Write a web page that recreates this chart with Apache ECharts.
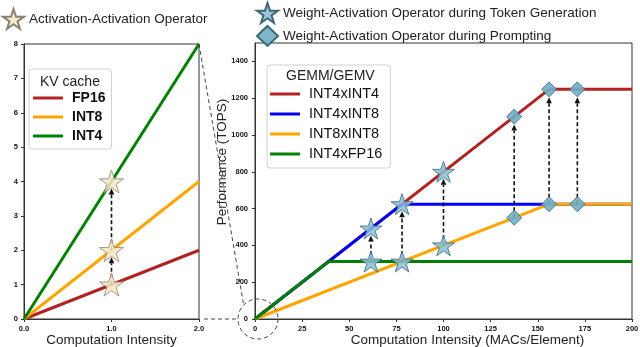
<!DOCTYPE html>
<html>
<head>
<meta charset="utf-8">
<script src="https://cdn.jsdelivr.net/npm/echarts@6.0.0/dist/echarts.min.js"></script>
<style>
  html, body { margin: 0; padding: 0; background: #fff; }
  #chart { width: 640px; height: 347px; }
</style>
</head>
<body>
<div id="chart"></div>
<script>
// KV cache roofline (left panel)
const fp16X = [0, 2], fp16Y = [0, 2];
const int8X = [0, 2], int8Y = [0, 4];
const int4X = [0, 2], int4Y = [0, 8];
const actX = [1, 1, 1];
const actY = [1, 2, 4];

// GEMM/GEMV roofline (right panel)
const int4int4X = [0, 156, 200], int4int4Y = [0, 1248, 1248];
const int4int8X = [0, 78, 200],  int4int8Y = [0, 624, 624];
const int8int8X = [0, 156, 200], int8int8Y = [0, 624, 624];
const int4fp16X = [0, 39, 200],  int4fp16Y = [0, 312, 312];

// token generation (stars) and prompting (diamonds): low -> high
const tokenX = [61.5, 78, 100];
const tokenLow = [312, 312, 400];
const tokenHigh = [492, 624, 800];
const promptX = [137.5, 156, 171];
const promptLow = [550, 624, 624];
const promptHigh = [1100, 1248, 1248];

const FONT = 'Liberation Sans';
const zip = (xs, ys) => xs.map((x, i) => [x, ys[i]]);

// five point star symbol
const starPath = (() => {
    const pts = [];
    for (let i = 0; i < 10; i++) {
        const a = (-90 + i * 36) * Math.PI / 180;
        const r = i % 2 ? 38.2 : 100;
        pts.push((r * Math.cos(a)).toFixed(2) + ',' + (r * Math.sin(a)).toFixed(2));
    }
    return 'path://M' + pts.join('L') + 'Z';
})();

// dashed arrow from low marker to just under the high marker
const arrowRenderer = (gap) => (params, api) => {
    const p0 = api.coord([api.value(0), api.value(1)]);
    const p1 = api.coord([api.value(0), api.value(2)]);
    const tipY = p1[1] + gap;
    const head = 6, half = 2.8;
    return {
        type: 'group',
        children: [
            {
                type: 'line',
                shape: { x1: p0[0], y1: p0[1], x2: p1[0], y2: tipY + head },
                style: { stroke: '#111', lineWidth: 1.6, lineDash: [4, 2.5] }
            },
            {
                type: 'polygon',
                shape: { points: [[p1[0], tipY], [p1[0] - half, tipY + head], [p1[0] + half, tipY + head]] },
                style: { fill: '#111' }
            }
        ]
    };
};

const axisCommon = {
    nameMoveOverlap: false,
    axisLine: { lineStyle: { color: '#333', width: 1 } },
    axisTick: { length: 3, lineStyle: { color: '#333' } },
    splitLine: { show: false },
    axisLabel: { fontFamily: FONT, fontSize: 7.5, fontWeight: 'bold', color: '#111', formatter: v => String(v) }
};

const nameStyle = { fontFamily: FONT, fontSize: 13.5, color: '#222' };

const lineSeries = (name, xs, ys, color, xi) => ({
    name: name,
    type: 'line',
    xAxisIndex: xi,
    yAxisIndex: xi,
    data: zip(xs, ys),
    symbol: 'none',
    showSymbol: false,
    lineStyle: { color: color, width: 3 },
    itemStyle: { color: color },
    z: 2,
    silent: true
});

const actPoints = zip(actX, actY);
const actArrows = actY.slice(0, -1).map((y, i) => [actX[i], y, actY[i + 1]]);

const boxLegend = {
    orient: 'vertical',
    icon: 'rect',
    itemWidth: 30, itemHeight: 3,
    selectedMode: false,
    backgroundColor: 'rgba(255,255,255,0.85)',
    borderColor: '#d0d0d0', borderWidth: 1, borderRadius: 3
};

const chart = echarts.init(document.getElementById('chart'));
chart.setOption({
    animation: false,
    backgroundColor: '#fff',
    title: [
        { text: 'KV cache', left: 40, top: 75, padding: 0,
          textStyle: { fontFamily: FONT, fontSize: 14, fontWeight: 'normal', color: '#222' } },
        { text: 'GEMM/GEMV', left: 286, top: 69, padding: 0,
          textStyle: { fontFamily: FONT, fontSize: 14, fontWeight: 'normal', color: '#222' } }
    ],
    legend: [
        {
            data: ['Activation-Activation Operator'],
            left: 2, top: 8, padding: 0,
            itemWidth: 21, itemHeight: 20,
            selectedMode: false,
            textStyle: { fontFamily: FONT, fontSize: 13.5, color: '#222' }
        },
        {
            data: ['Weight-Activation Operator during Token Generation', 'Weight-Activation Operator during Prompting'],
            orient: 'vertical',
            left: 256, top: 2, padding: 0,
            itemWidth: 21, itemHeight: 20, itemGap: 1,
            selectedMode: false,
            textStyle: { fontFamily: FONT, fontSize: 13.5, color: '#222' }
        },
        Object.assign({}, boxLegend, {
            data: ['FP16', 'INT8', 'INT4'],
            left: 29, top: 69,
            padding: [21, 6, 5, 4],
            itemGap: 3,
            textStyle: { fontFamily: FONT, fontSize: 14, fontWeight: 'bold', color: '#111',
                         lineHeight: 16, padding: [0, 0, 0, 4] }
        }),
        Object.assign({}, boxLegend, {
            data: ['INT4xINT4', 'INT4xINT8', 'INT8xINT8', 'INT4xFP16'],
            left: 267, top: 65,
            padding: [21, 8, 6, 3],
            itemGap: 4,
            textStyle: { fontFamily: FONT, fontSize: 14.5, color: '#111',
                         lineHeight: 16, padding: [0, 0, 0, 4] }
        })
    ],
    grid: [
        { left: 24, top: 44, width: 175, height: 275, outerBoundsMode: 'none',
          show: true, borderColor: '#333', borderWidth: 1 },
        { left: 255, top: 43, width: 377, height: 276, outerBoundsMode: 'none',
          show: true, borderColor: '#333', borderWidth: 1 }
    ],
    xAxis: [
        Object.assign({}, axisCommon, {
            type: 'value', gridIndex: 0, min: 0, max: 2, interval: 1,
            name: 'Computation Intensity', nameLocation: 'middle', nameGap: 14,
            nameTextStyle: nameStyle,
            axisLabel: Object.assign({}, axisCommon.axisLabel, { margin: 6, formatter: v => v.toFixed(1) })
        }),
        Object.assign({}, axisCommon, {
            type: 'value', gridIndex: 1, min: 0, max: 200, interval: 25,
            name: 'Computation Intensity (MACs/Element)', nameLocation: 'middle', nameGap: 14,
            nameTextStyle: Object.assign({}, nameStyle, { padding: [0, 0, 0, 48] }),
            axisLabel: Object.assign({}, axisCommon.axisLabel, { margin: 6 })
        })
    ],
    yAxis: [
        Object.assign({}, axisCommon, {
            type: 'value', gridIndex: 0, min: 0, max: 8, interval: 1,
            axisLabel: Object.assign({}, axisCommon.axisLabel, { margin: 6 })
        }),
        Object.assign({}, axisCommon, {
            type: 'value', gridIndex: 1, min: 0, max: 1500, interval: 200,
            name: 'Performance (TOPS)', nameLocation: 'middle', nameGap: 26,
            nameTextStyle: Object.assign({}, nameStyle, { padding: [0, 0, 0, 38] }),
            axisLabel: Object.assign({}, axisCommon.axisLabel, { margin: 7, showMaxLabel: false })
        })
    ],
    series: [
        lineSeries('FP16', fp16X, fp16Y, '#b22222', 0),
        lineSeries('INT8', int8X, int8Y, '#ffa500', 0),
        lineSeries('INT4', int4X, int4Y, '#008000', 0),
        lineSeries('INT4xINT4', int4int4X, int4int4Y, '#b22222', 1),
        lineSeries('INT4xINT8', int4int8X, int4int8Y, '#0000ff', 1),
        lineSeries('INT8xINT8', int8int8X, int8int8Y, '#ffa500', 1),
        lineSeries('INT4xFP16', int4fp16X, int4fp16Y, '#008000', 1),
        {
            type: 'custom', xAxisIndex: 0, yAxisIndex: 0, z: 3, silent: true,
            renderItem: arrowRenderer(7),
            encode: { x: 0, y: [1, 2] },
            data: actArrows
        },
        {
            type: 'custom', xAxisIndex: 1, yAxisIndex: 1, z: 3, silent: true,
            renderItem: arrowRenderer(7),
            encode: { x: 0, y: [1, 2] },
            data: tokenX.map((x, i) => [x, tokenLow[i], tokenHigh[i]])
        },
        {
            type: 'custom', xAxisIndex: 1, yAxisIndex: 1, z: 3, silent: true,
            renderItem: arrowRenderer(8),
            encode: { x: 0, y: [1, 2] },
            data: promptX.map((x, i) => [x, promptLow[i], promptHigh[i]])
        },
        {
            name: 'Activation-Activation Operator',
            type: 'scatter', xAxisIndex: 0, yAxisIndex: 0, z: 4, silent: true,
            symbol: starPath, symbolKeepAspect: true, symbolSize: 24,
            itemStyle: { color: 'rgba(248,232,200,0.85)', borderColor: '#8a8272', borderWidth: 0.8, opacity: 1 },
            data: actPoints
        },
        {
            name: 'Weight-Activation Operator during Token Generation',
            type: 'scatter', xAxisIndex: 1, yAxisIndex: 1, z: 4, silent: true,
            symbol: starPath, symbolKeepAspect: true, symbolSize: 22,
            itemStyle: { color: 'rgba(137,192,212,0.85)', borderColor: '#3e6778', borderWidth: 0.8, opacity: 1 },
            data: zip(tokenX, tokenLow).concat(zip(tokenX, tokenHigh))
        },
        {
            name: 'Weight-Activation Operator during Prompting',
            type: 'scatter', xAxisIndex: 1, yAxisIndex: 1, z: 4, silent: true,
            symbol: 'diamond', symbolSize: 15,
            itemStyle: { color: 'rgba(112,174,198,0.9)', borderColor: '#3e6778', borderWidth: 0.8, opacity: 1 },
            data: zip(promptX, promptLow).concat(zip(promptX, promptHigh))
        }
    ]
});

// zoom-in annotation: dashed circle around right origin, linked to left panel corners
const origin = chart.convertToPixel({ xAxisIndex: 1, yAxisIndex: 1 }, [0, 0]);
const leftTop = chart.convertToPixel({ xAxisIndex: 0, yAxisIndex: 0 }, [2, 8]);
const leftBottom = chart.convertToPixel({ xAxisIndex: 0, yAxisIndex: 0 }, [2, 0]);
const cx = origin[0] + 3, cy = origin[1], r = 20;
const dash = { stroke: '#444', lineWidth: 1, lineDash: [4, 3], fill: null };
chart.setOption({
    graphic: [
        { type: 'circle', shape: { cx: cx, cy: cy, r: r }, style: dash, z: 10, silent: true },
        { type: 'line', shape: { x1: leftTop[0], y1: leftTop[1], x2: cx - r * 0.72, y2: cy - r * 0.72 }, style: dash, z: 10, silent: true },
        { type: 'line', shape: { x1: leftBottom[0] + 5, y1: leftBottom[1], x2: cx - r, y2: cy }, style: dash, z: 10, silent: true }
    ]
});
</script>
</body>
</html>
